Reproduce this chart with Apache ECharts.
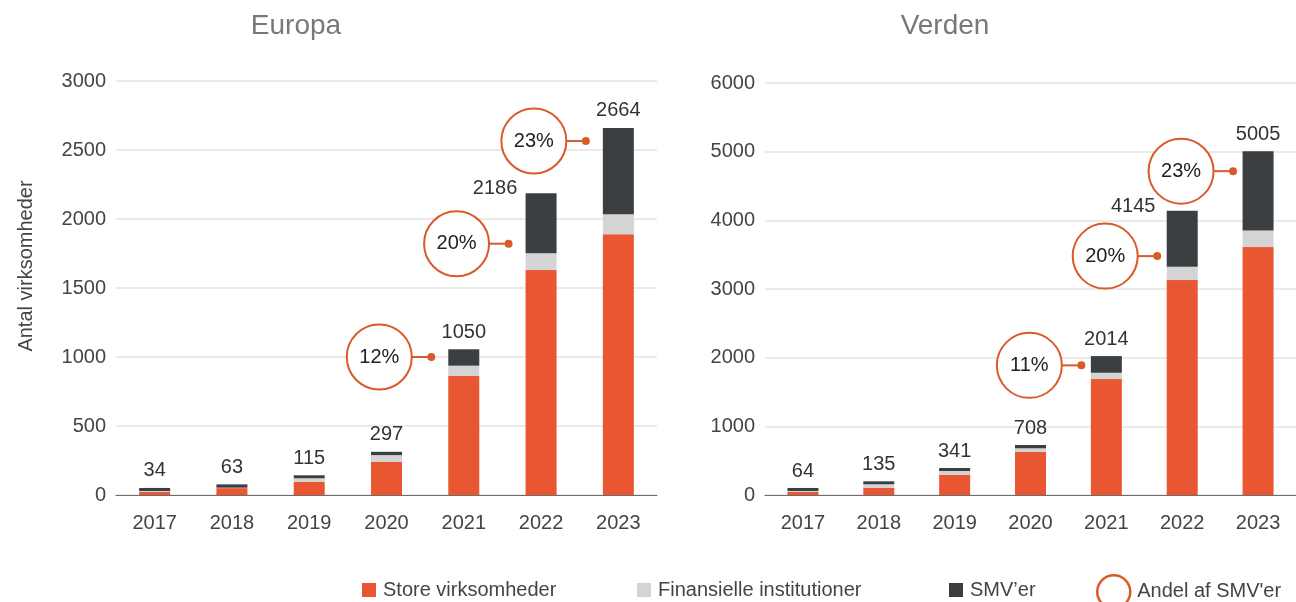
<!DOCTYPE html>
<html>
<head>
<meta charset="utf-8">
<script src="https://cdn.jsdelivr.net/npm/echarts@6/dist/echarts.min.js"></script>
<style>
html,body{margin:0;padding:0;background:#fff;}
#c{width:1296px;height:602px;}
</style>
</head>
<body>
<div id="c"></div>
<script>
// ---- data ----
const years = ['2017', '2018', '2019', '2020', '2021', '2022', '2023'];
const europaStore = [22, 50, 96, 239, 862, 1630, 1890];
const europaFin = [7, 3, 25, 50, 75, 121, 145];
const europaSmv = [22, 24, 22, 24, 119, 435, 625];
const europaTotals = [34, 63, 115, 297, 1050, 2186, 2664];
const europaShareYears = [4, 5, 6];
const europaShareY = [1000, 1821, 2565];
const europaShareLabels = ['12%', '20%', '23%'];

const verdenStore = [44, 106, 291, 630, 1688, 3130, 3610];
const verdenFin = [14, 50, 58, 50, 92, 193, 243];
const verdenSmv = [44, 43, 44, 48, 243, 815, 1154];
const verdenTotals = [64, 135, 341, 708, 2014, 4145, 5005];
const verdenShareYears = [4, 5, 6];
const verdenShareY = [1888, 3479, 4716];
const verdenShareLabels = ['11%', '20%', '23%'];

const europaTicks = [0, 500, 1000, 1500, 2000, 2500, 3000];
const verdenTicks = [0, 1000, 2000, 3000, 4000, 5000, 6000];

// ---- styles ----
const ORANGE = '#E85632';
const LIGHT = '#D4D4D4';
const DARK = '#3C3F42';
const RING = '#D95A2B';
const FONT = '"Liberation Sans", Arial, sans-serif';
const TXT = '#444';

const chart = echarts.init(document.getElementById('c'), null, {renderer: 'canvas'});

function xAxis(gridIndex) {
  return {
    type: 'category', gridIndex, data: years,
    axisLine: {lineStyle: {color: '#6e6e6e', width: 1.2}},
    axisTick: {inside: true, length: 9, lineStyle: {color: '#6e6e6e', width: 1.2}},
    axisLabel: {color: TXT, fontSize: 20, fontFamily: FONT, margin: 18}
  };
}
function yAxis(gridIndex, ticks, name) {
  return {
    type: 'value', gridIndex,
    min: ticks[0], max: ticks[ticks.length - 1], interval: ticks[1] - ticks[0],
    name: name || '', nameLocation: 'middle', nameGap: 80,
    nameTextStyle: {color: TXT, fontSize: 20, fontFamily: FONT, padding: [0, 0, 0, 44]},
    axisLine: {show: false}, axisTick: {show: false},
    splitLine: {lineStyle: {color: '#e3e3e3', width: 1.5}},
    axisLabel: {color: TXT, fontSize: 20, fontFamily: FONT, margin: 10, padding: [6, 0, 0, 0], formatter: v => String(v)}
  };
}
function barSeries(name, color, values, idx, stack) {
  return {
    type: 'bar', name, stack, xAxisIndex: idx, yAxisIndex: idx,
    barWidth: 31, itemStyle: {color}, emphasis: {disabled: true},
    data: values.slice()
  };
}
function topSeries(name, color, values, totals, idx, stack, offset2022) {
  const s = barSeries(name, color, values, idx, stack);
  s.data = values.map((v, i) => i === 5 ? {value: v, label: {offset: offset2022}} : v);
  s.label = {
    show: true, position: 'top', distance: 7,
    color: '#333', fontSize: 20, fontFamily: FONT,
    formatter: p => String(totals[p.dataIndex])
  };
  return s;
}
function callouts(idx, xs, ys, labels, dotDx) {
  return {
    type: 'custom', name: "Andel af SMV'er", xAxisIndex: idx, yAxisIndex: idx,
    clip: false, z: 10,
    itemStyle: {color: RING},
    data: xs.map((x, i) => [x, ys[i]]),
    renderItem: function (params, api) {
      const c = api.coord([api.value(0), api.value(1)]);
      const dotX = c[0] + dotDx;
      const cx = dotX - 52;
      const r = 32.5;
      return {
        type: 'group',
        children: [
          {type: 'line', shape: {x1: cx + r, y1: c[1], x2: dotX, y2: c[1]}, style: {stroke: RING, lineWidth: 2}},
          {type: 'circle', shape: {cx: cx, cy: c[1], r: r}, style: {fill: '#fff', stroke: RING, lineWidth: 2}},
          {type: 'circle', shape: {cx: dotX, cy: c[1], r: 4}, style: {fill: RING}},
          {type: 'text', x: cx, y: c[1], style: {text: labels[params.dataIndex], align: 'center', verticalAlign: 'middle', fontSize: 20, fontFamily: FONT, fill: '#222'}}
        ]
      };
    }
  };
}
function legend(name, left, icon, w, h, itemStyle) {
  return {
    data: [{name, icon, itemStyle}],
    left, top: icon === 'circle' ? 574 : 580, padding: 0,
    itemWidth: w, itemHeight: h, selectedMode: false,
    textStyle: {color: TXT, fontSize: 20, fontFamily: FONT, padding: [0, 0, 0, 2]}
  };
}

chart.setOption({
  animation: false,
  title: [
    {text: 'Europa', left: 296, top: 12, textAlign: 'center', padding: 0,
     textStyle: {color: '#77787b', fontSize: 28, fontWeight: 'normal', fontFamily: FONT}},
    {text: 'Verden', left: 945, top: 12, textAlign: 'center', padding: 0,
     textStyle: {color: '#77787b', fontSize: 28, fontWeight: 'normal', fontFamily: FONT}}
  ],
  legend: [
    legend('Store virksomheder', 362, 'rect', 14, 14),
    legend('Finansielle institutioner', 637, 'rect', 14, 14),
    legend("SMV’er", 949, 'rect', 14, 14),
    legend("Andel af SMV'er", 1096, 'circle', 33, 34, {color: '#fff', borderColor: RING, borderWidth: 2.5})
  ],
  grid: [
    {left: 116, right: 639, top: 81, bottom: 107},
    {left: 765, right: 0, top: 83, bottom: 107}
  ],
  xAxis: [xAxis(0), xAxis(1)],
  yAxis: [yAxis(0, europaTicks, 'Antal virksomheder'), yAxis(1, verdenTicks)],
  series: [
    barSeries('Store virksomheder', ORANGE, europaStore, 0, 'e'),
    barSeries('Finansielle institutioner', LIGHT, europaFin, 0, 'e'),
    topSeries("SMV’er", DARK, europaSmv, europaTotals, 0, 'e', [-46, 12]),
    barSeries('Store virksomheder', ORANGE, verdenStore, 1, 'v'),
    barSeries('Finansielle institutioner', LIGHT, verdenFin, 1, 'v'),
    topSeries("SMV’er", DARK, verdenSmv, verdenTotals, 1, 'v', [-49, 13]),
    callouts(0, europaShareYears, europaShareY, europaShareLabels, -32.5),
    callouts(1, verdenShareYears, verdenShareY, verdenShareLabels, -25)
  ]
});
</script>
</body>
</html>
